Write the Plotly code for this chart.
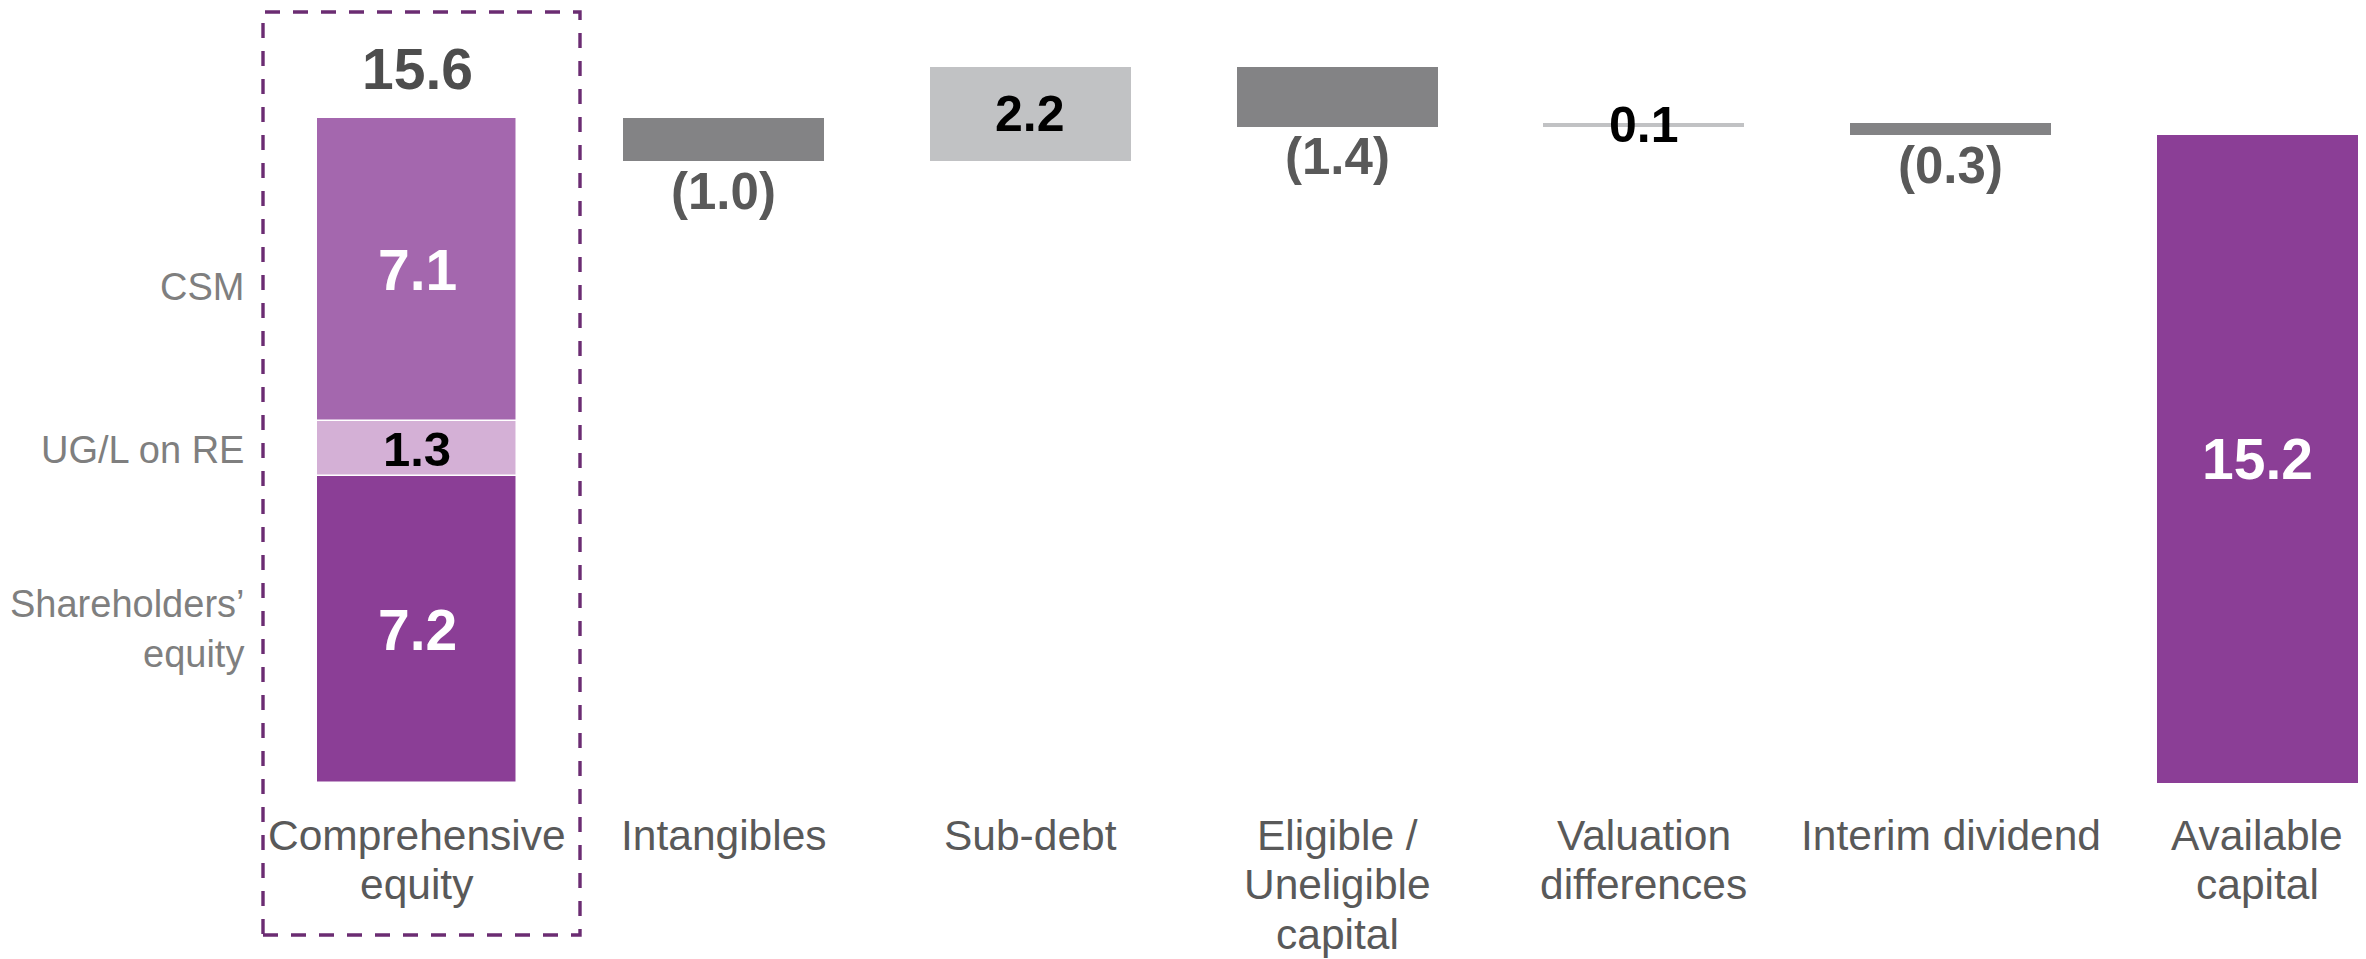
import plotly.graph_objects as go

# ---------------- data ----------------
categories = ["Comprehensive<br>equity", "Intangibles", "Sub-debt",
              "Eligible /<br>Uneligible<br>capital", "Valuation<br>differences",
              "Interim dividend", "Available<br>capital"]
equity_parts = ["Shareholders’<br>equity", "UG/L on RE", "CSM"]
equity_values = [7.2, 1.3, 7.1]
step_values = [-1.0, 2.2, -1.4, 0.1, -0.3]   # Intangibles .. Interim dividend
available_capital = 15.2

# ---------------- styles ----------------
FONT = "Liberation Sans, Arial, sans-serif"
equity_colors = ["#8B3E96", "#D4B0D6", "#A467AE"]
equity_text_colors = ["white", "black", "white"]
equity_label_sizes = [57, 49, 57]
neg_color = "#838385"
pos_color = "#C1C2C4"
avail_color = "#8B3E96"
W, H = 2366, 959
PX_PER_X = 306.7
X0_PX = 417          # pixel centre of first category
ZERO_PX = 783        # pixel row of value 0
PX_PER_Y = 42.6
BAR_W = 0.655

fig = go.Figure()

# stacked comprehensive equity
base = 0.0
seg_mids = []
for name, v, c in zip(equity_parts, equity_values, equity_colors):
    fig.add_trace(go.Bar(x=[0], y=[v], base=[base], marker_color=c,
                         marker_line_color="white", marker_line_width=1.5,
                         width=BAR_W, showlegend=False, hoverinfo="skip"))
    seg_mids.append(base + v / 2)
    base += v
total_equity = base

# floating steps
level = total_equity
step_bounds = []
for i, v in enumerate(step_values):
    lo, hi = (level, level + v) if v >= 0 else (level + v, level)
    col = pos_color if v >= 0 else neg_color
    fig.add_trace(go.Bar(x=[i + 1], y=[hi - lo], base=[lo], marker_color=col,
                         marker_line_width=0, width=BAR_W,
                         showlegend=False, hoverinfo="skip"))
    step_bounds.append((lo, hi))
    level += v

# available capital
fig.add_trace(go.Bar(x=[6], y=[available_capital], base=[0], marker_color=avail_color,
                     marker_line_width=0, width=BAR_W, showlegend=False, hoverinfo="skip"))

ann = []
# total label above the stack
ann.append(dict(x=0, y=total_equity, yanchor="middle", yshift=49,
                text=f"<b>{total_equity:.1f}</b>", showarrow=False,
                font=dict(family=FONT, size=57, color="#4D4D4D")))
# segment labels
for v, m, tc, fs in zip(equity_values, seg_mids, equity_text_colors, equity_label_sizes):
    ann.append(dict(x=0, y=m, yanchor="middle", text=f"<b>{v:.1f}</b>", showarrow=False,
                    font=dict(family=FONT, size=fs, color=tc)))

# left-side part labels (one annotation per line)
left_shifts = [[26, -24], [-1], [-17]]
LEFT_X = (246 - X0_PX) / PX_PER_X
for name, m, shifts in zip(equity_parts, seg_mids, left_shifts):
    for line, sh in zip(name.split("<br>"), shifts):
        ann.append(dict(x=LEFT_X, y=m, xanchor="right", yanchor="middle", yshift=sh,
                        text=line, showarrow=False,
                        font=dict(family=FONT, size=38, color="#7F7F7F")))

# step labels
for i, (v, (lo, hi)) in enumerate(zip(step_values, step_bounds)):
    if v < 0:
        ann.append(dict(x=i + 1, y=lo, yanchor="middle", yshift=-30,
                        text=f"<b>({abs(v):.1f})</b>", showarrow=False,
                        font=dict(family=FONT, size=51, color="#595959")))
    else:
        ann.append(dict(x=i + 1, y=(lo + hi) / 2, yanchor="middle",
                        text=f"<b>{v:.1f}</b>", showarrow=False,
                        font=dict(family=FONT, size=50, color="black")))

ann.append(dict(x=6, y=available_capital / 2, yanchor="middle",
                text=f"<b>{available_capital:.1f}</b>",
                showarrow=False, font=dict(family=FONT, size=57, color="white")))

# category labels below the axis, one annotation per line
line_shifts = [-52, -101, -151]
for i, cat in enumerate(categories):
    for line, sh in zip(cat.split("<br>"), line_shifts):
        ann.append(dict(x=i, y=0, yanchor="middle", yshift=sh, text=line,
                        showarrow=False,
                        font=dict(family=FONT, size=42.5, color="#595959")))

# dashed box around first column (paper coords so it is not clipped)
shapes = [dict(type="rect", xref="paper", yref="paper",
               x0=263 / W, x1=580 / W,
               y0=(ZERO_PX - 935) / ZERO_PX, y1=(ZERO_PX - 12) / ZERO_PX,
               line=dict(color="#6B2C72", width=3.4, dash="15px,13px"),
               fillcolor="rgba(0,0,0,0)", layer="below")]

fig.update_layout(
    width=W, height=H,
    margin=dict(l=0, r=0, t=0, b=H - ZERO_PX, pad=0),
    paper_bgcolor="white", plot_bgcolor="white",
    barmode="overlay", bargap=0,
    annotations=ann, shapes=shapes,
    xaxis=dict(range=[-X0_PX / PX_PER_X, (W - X0_PX) / PX_PER_X],
               visible=False, showgrid=False, zeroline=False),
    yaxis=dict(range=[0, ZERO_PX / PX_PER_Y], visible=False, showgrid=False,
               zeroline=False),
)

fig.write_html("out.html",
               config={"displayModeBar": False},
               post_script="document.body.style.margin='0';"
                           "document.body.style.overflow='hidden';")
